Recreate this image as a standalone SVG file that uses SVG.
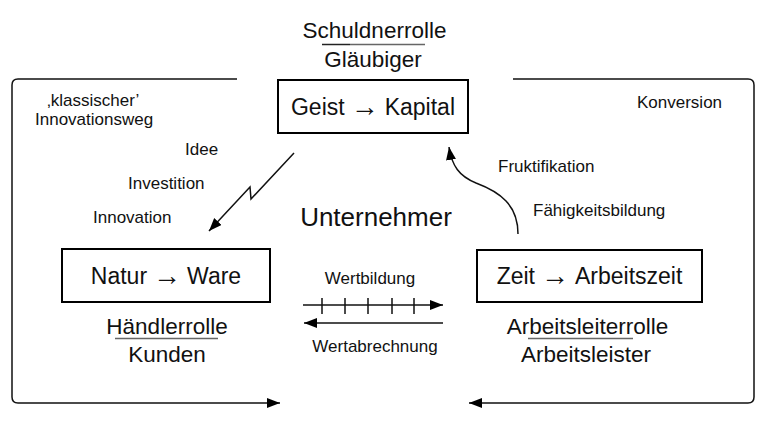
<svg xmlns="http://www.w3.org/2000/svg" width="762" height="424" viewBox="0 0 762 424">
  <style>
    text { font-family: "Liberation Sans", Arial, sans-serif; fill: #111; }
    .s { font-size: 17px; }
    .m { font-size: 22.5px; text-anchor: middle; }
    .b { font-size: 23px; text-anchor: middle; }
    .ar { font-family: "Liberation Serif", "Times New Roman", serif; font-size: 28px; }
    .box { fill: #fff; stroke: #000; stroke-width: 2; }
    .ln { fill: none; stroke: #111; stroke-width: 1.5; }
    .ul { stroke: #666; stroke-width: 1.5; }
  </style>
  <defs>
    <marker id="ah" markerUnits="userSpaceOnUse" markerWidth="14" markerHeight="11" refX="13" refY="5" orient="auto">
      <path d="M0,0 L13,5 L0,10 z" fill="#000"/>
    </marker>
  </defs>
  <rect width="762" height="424" fill="#fff"/>

  <g id="connectors">
    <path class="ln" d="M237,79 H18 Q12,79 12,85 V397 Q12,403 18,403 H280" marker-end="url(#ah)"/>
    <path class="ln" d="M513,79 H748 Q754,79 754,85 V397 Q754,403 748,403 H469" marker-end="url(#ah)"/>
    <path class="ln" d="M294,153 L251,199 L250,187 L209,231" marker-end="url(#ah)"/>
    <path class="ln" d="M518,234 C518,205 500,192 476,183 C459,176 452,166 449,147" marker-end="url(#ah)"/>
    <path class="ln" d="M303,305 H443" marker-end="url(#ah)"/>
    <path class="ln" d="M322,298 V314 M345,298 V314 M368,298 V314 M392,298 V314 M414,298 V314"/>
    <path class="ln" d="M443,323 H304" marker-end="url(#ah)"/>
  </g>

  <g id="geist">
    <text class="m" x="374.5" y="38">Schuldnerrolle</text>
    <line x1="322" y1="44.5" x2="350" y2="44.5" stroke="#222" stroke-width="1.5"/>
    <line class="ul" x1="350" y1="44.5" x2="425" y2="44.5"/>
    <text class="m" x="373" y="67">Gläubiger</text>
    <rect class="box" x="278" y="80" width="190" height="53"/>
    <text class="b" x="373" y="115">Geist<tspan class="ar" dx="6" dy="1.2">→</tspan><tspan dx="6" dy="-1.2">Kapital</tspan></text>
  </g>

  <g id="natur">
    <rect class="box" x="62" y="249" width="208" height="53"/>
    <text class="b" x="166" y="284">Natur<tspan class="ar" dx="6" dy="1.2">→</tspan><tspan dx="6" dy="-1.2">Ware</tspan></text>
    <text class="m" x="167" y="334">Händlerrolle</text>
    <line class="ul" x1="115" y1="338.5" x2="218" y2="338.5"/>
    <text class="m" x="167" y="362">Kunden</text>
  </g>

  <g id="zeit">
    <rect class="box" x="477" y="250" width="225" height="52"/>
    <text class="b" x="589.5" y="284">Zeit<tspan class="ar" dx="6" dy="1.2">→</tspan><tspan dx="6" dy="-1.2">Arbeitszeit</tspan></text>
    <text class="m" x="587.5" y="334">Arbeitsleiterrolle</text>
    <line class="ul" x1="528" y1="338.5" x2="633" y2="338.5"/>
    <text class="m" x="586" y="362">Arbeitsleister</text>
  </g>

  <g id="unternehmer">
    <text x="376" y="226" font-size="26" text-anchor="middle">Unternehmer</text>
  </g>

  <g id="labels">
    <text class="s" x="47" y="106">‚klassischer’</text>
    <text class="s" x="35" y="125">Innovationsweg</text>
    <text class="s" x="185" y="155">Idee</text>
    <text class="s" x="128" y="189">Investition</text>
    <text class="s" x="93" y="223">Innovation</text>
    <text class="s" x="637" y="108">Konversion</text>
    <text class="s" x="498" y="172">Fruktifikation</text>
    <text class="s" x="533" y="216">Fähigkeitsbildung</text>
    <text class="s" x="370" y="284" text-anchor="middle">Wertbildung</text>
    <text class="s" x="375" y="352" text-anchor="middle">Wertabrechnung</text>
  </g>
</svg>
